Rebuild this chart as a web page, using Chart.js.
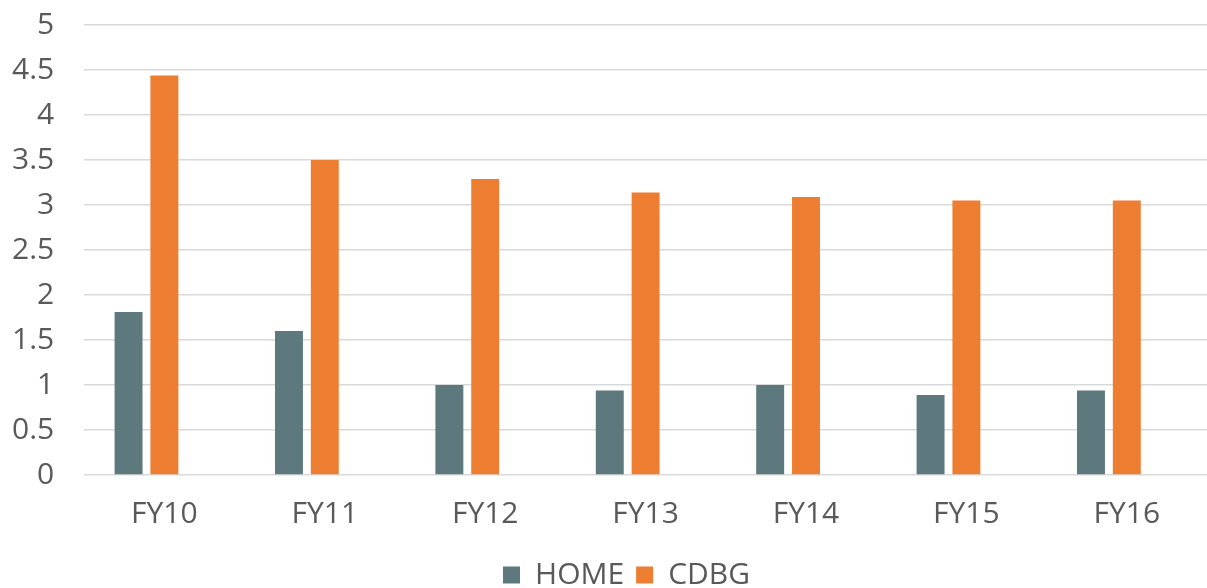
<!DOCTYPE html>
<html>
<head>
<meta charset="utf-8">
<script src="https://cdn.jsdelivr.net/npm/chart.js@4"></script>
<style>
  html, body { margin: 0; padding: 0; background: #fff; }
  #wrap { width: 1207px; height: 588px; }
</style>
</head>
<body>
<div id="wrap"><canvas id="c" width="1207" height="588"></canvas></div>
<script>
const categories = ["FY10", "FY11", "FY12", "FY13", "FY14", "FY15", "FY16"];
const homeValues = [1.81, 1.6, 1.0, 0.94, 1.0, 0.89, 0.94];
const cdbgValues = [4.44, 3.5, 3.29, 3.14, 3.09, 3.05, 3.05];
const emptyValues = [null, null, null, null, null, null, null];
const yTicks = [0, 0.5, 1, 1.5, 2, 2.5, 3, 3.5, 4, 4.5, 5];

const textColor = "#595959";
const fontFamily = "'Open Sans', sans-serif";

const legendShift = {
  id: "legendShift",
  afterLayout(chart) {
    if (chart.legend) { chart.legend.left += 30; chart.legend.right += 30; }
  }
};

new Chart(document.getElementById("c"), {
  type: "bar",
  data: {
    labels: categories,
    datasets: [
      { label: "HOME", data: homeValues, backgroundColor: "#5E797E" },
      { label: "CDBG", data: cdbgValues, backgroundColor: "#ED7D31" },
      { label: "", data: emptyValues, backgroundColor: "rgba(0,0,0,0)" }
    ]
  },
  plugins: [legendShift],
  options: {
    responsive: false,
    animation: false,
    datasets: { bar: { categoryPercentage: 0.67, barPercentage: 0.78 } },
    layout: { padding: { left: -18, right: -4, top: 25, bottom: -12 } },
    plugins: {
      tooltip: { enabled: false },
      legend: {
        position: "bottom",
        labels: {
          color: textColor,
          font: { family: fontFamily, size: 30 },
          boxWidth: 17,
          boxHeight: 17,
          padding: 12,
          filter: (item) => item.text !== ""
        }
      }
    },
    scales: {
      x: {
        grid: { display: false },
        border: { display: false },
        ticks: { color: textColor, font: { family: fontFamily, size: 30 }, padding: 13 },
        afterFit: (axis) => { axis.height += 3; axis.paddingLeft = 0; axis.paddingRight = 0; }
      },
      y: {
        min: 0,
        max: 5,
        afterBuildTicks: (axis) => { axis.ticks = yTicks.map(v => ({ value: v })); },
        afterFit: (axis) => { axis.paddingTop = 0; axis.paddingBottom = 0; },
        grid: { color: "#D9D9D9", lineWidth: 1.5, drawTicks: false },
        border: { display: false },
        ticks: {
          color: textColor,
          font: { family: fontFamily, size: 30 },
          padding: 30,
          callback: (v) => String(v)
        }
      }
    }
  }
});
</script>
</body>
</html>
